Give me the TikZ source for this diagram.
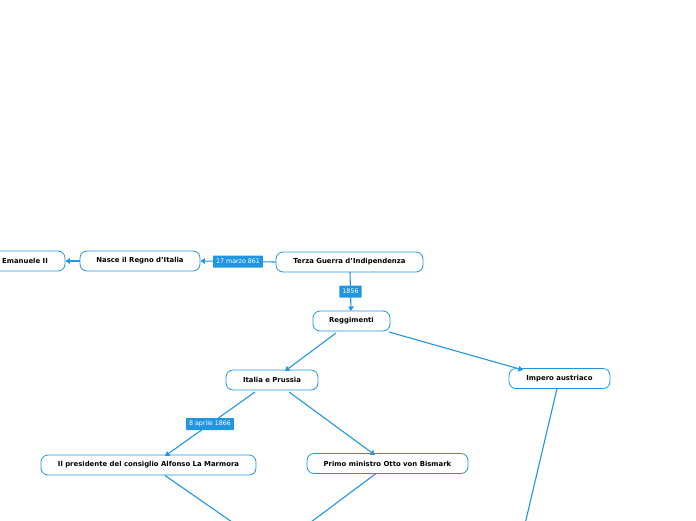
\documentclass[tikz,border=0pt]{standalone}
\usepackage{fontspec}
\setmainfont{DejaVu Sans}
\usetikzlibrary{arrows.meta}
\definecolor{mmblue}{HTML}{2196E0}
\tikzset{
  topic/.style={draw=mmblue, line width=0.8pt, rounded corners=7pt, fill=white,
    minimum height=20pt, inner xsep=6pt, font=\fontsize{6.9}{8}\selectfont\bfseries, text=black},
  conn/.style={draw=mmblue, line width=1.1pt, -{Triangle[width=5.5pt,length=4.5pt]}},
  connfree/.style={draw=mmblue, line width=1.1pt},
  lbl/.style={fill=mmblue, text=white, font=\fontsize{6.3}{7}\selectfont, inner xsep=3pt, inner ysep=2pt, minimum height=12pt, rounded corners=0.5pt}
}
\begin{document}
\begin{tikzpicture}[x=1pt,y=-1pt]
\useasboundingbox (0,0) rectangle (696,520);
\node[topic, minimum width=80pt] (vit) at (25,261) {Emanuele II};
\node[topic, minimum width=120pt] (nasce) at (140,261) {Nasce il Regno d'Italia};
\node[topic, minimum width=147pt] (terza) at (349.5,262) {Terza Guerra d'Indipendenza};
\node[topic, minimum width=77pt] (regg) at (351.5,321) {Reggimenti};
\node[topic, minimum width=92pt] (italia) at (272,380) {Italia e Prussia};
\node[topic, minimum width=101pt] (impero) at (559.5,378.5) {Impero austriaco};
\node[topic, minimum width=215pt] (pres) at (148.5,465) {Il presidente del consiglio Alfonso La Marmora};
\node[topic, minimum width=161pt] (primo) at (387.5,463.5) {Primo ministro Otto von Bismark};

\coordinate (a1) at (165,475.5);
\coordinate (a2) at (232,522);
\coordinate (b1) at (376,473.5);
\coordinate (b2) at (311,522);
\coordinate (c1) at (557,388.5);
\coordinate (c2) at (525.5,522);

\draw[conn] (terza.west) -- node[lbl] {17 marzo 861} (nasce.east);
\draw[conn] (nasce.west) -- (vit.east);
\draw[conn] (350,272) -- node[lbl] {1856} (351,311);
\draw[conn] (336,333) -- (285,371);
\draw[conn] (389,332) -- (523,370);
\draw[conn] (255,392) -- node[lbl] {8 aprile 1866} (165,456);
\draw[conn] (289,392) -- (375,455);
\draw[connfree] (a1) -- (a2);
\draw[connfree] (b1) -- (b2);
\draw[connfree] (c1) -- (c2);
\end{tikzpicture}
\end{document}
